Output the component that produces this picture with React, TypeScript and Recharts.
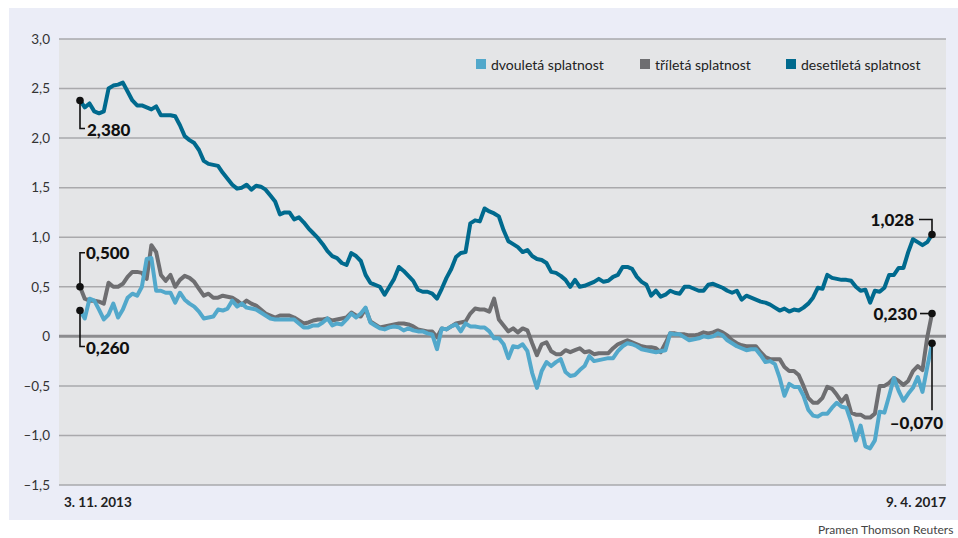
import React from 'react';
import { LineChart, Line, XAxis, YAxis, CartesianGrid, ReferenceLine } from 'recharts';

// weekly observations from 3. 11. 2013 to 9. 4. 2017
const weeks = Array.from({ length: 180 }, (_, i) => i);
const dateLabels = ['3. 11. 2013', '9. 4. 2017'];
const yTicks = [-1.5, -1, -0.5, 0, 0.5, 1, 1.5, 2, 2.5, 3];
const seriesNames = ['dvouletá splatnost', 'tříletá splatnost', 'desetiletá splatnost'];
const seriesColors = ['#52a8cb', '#6e6e71', '#006a8e'];
const sourceText = 'Pramen Thomson Reuters';

const twoYear = [
  0.26, 0.18, 0.38, 0.36, 0.27, 0.17, 0.22, 0.33, 0.19, 0.27,
  0.39, 0.43, 0.41, 0.5, 0.78, 0.79, 0.46, 0.46, 0.44, 0.44,
  0.34, 0.44, 0.37, 0.33, 0.3, 0.25, 0.18, 0.19, 0.2, 0.27,
  0.26, 0.28, 0.36, 0.3, 0.33, 0.29, 0.28, 0.27, 0.24, 0.21,
  0.18, 0.17, 0.17, 0.17, 0.17, 0.17, 0.13, 0.09, 0.09, 0.11,
  0.11, 0.14, 0.18, 0.11, 0.13, 0.12, 0.17, 0.23, 0.19, 0.23,
  0.29, 0.14, 0.11, 0.08, 0.07, 0.09, 0.1, 0.09, 0.06, 0.08,
  0.06, 0.05, 0.05, 0.03, 0.02, -0.13, 0.08, 0.07, 0.1, 0.12,
  0.05, 0.13, 0.1, 0.1, 0.09, 0.09, 0.05, -0.02, -0.02, -0.08,
  -0.22, -0.1, -0.11, -0.08, -0.15, -0.37, -0.52, -0.35, -0.26, -0.3,
  -0.26, -0.23, -0.36, -0.4, -0.39, -0.34, -0.3, -0.2, -0.25, -0.24,
  -0.23, -0.22, -0.22, -0.15, -0.1, -0.07, -0.08, -0.1, -0.13, -0.14,
  -0.15, -0.16, -0.15, -0.14, 0.03, 0.02, 0.02, -0.01, -0.04, -0.03,
  -0.02, 0.0, -0.01, 0.0, 0.03, 0.01, -0.04, -0.07, -0.1, -0.12,
  -0.14, -0.13, -0.13, -0.19, -0.26, -0.25, -0.28, -0.42, -0.6, -0.48,
  -0.51, -0.51, -0.6, -0.74, -0.8, -0.81, -0.78, -0.78, -0.72, -0.67,
  -0.71, -0.72, -0.86, -1.05, -0.9, -1.11, -1.13, -1.05, -0.76, -0.77,
  -0.6, -0.42, -0.55, -0.65, -0.58, -0.52, -0.41, -0.56, -0.31, -0.07,
];

const threeYear = [
  0.5, 0.38, 0.36, 0.36, 0.35, 0.33, 0.54, 0.5, 0.5, 0.53,
  0.6, 0.65, 0.65, 0.64, 0.58, 0.92, 0.85, 0.62, 0.56, 0.62,
  0.5, 0.57, 0.61, 0.59, 0.55, 0.48, 0.41, 0.43, 0.39, 0.39,
  0.41, 0.4, 0.39, 0.36, 0.32, 0.36, 0.33, 0.31, 0.27, 0.23,
  0.21, 0.19, 0.21, 0.21, 0.21, 0.19, 0.16, 0.13, 0.14, 0.16,
  0.17, 0.17, 0.18, 0.16, 0.17, 0.18, 0.19, 0.24, 0.21, 0.2,
  0.28, 0.15, 0.12, 0.09, 0.1, 0.11, 0.12, 0.13, 0.13, 0.12,
  0.1, 0.07, 0.06, 0.05, 0.05, -0.01, 0.08, 0.07, 0.1, 0.13,
  0.14, 0.15, 0.23, 0.28, 0.27, 0.27, 0.25, 0.38, 0.17, 0.11,
  0.05, 0.08, 0.04, 0.08, 0.06, -0.07, -0.19, -0.08, -0.06, -0.15,
  -0.18, -0.18, -0.14, -0.16, -0.14, -0.12, -0.16, -0.15, -0.18, -0.17,
  -0.17, -0.17, -0.12, -0.08, -0.06, -0.04, -0.06, -0.08, -0.1, -0.11,
  -0.11, -0.12, -0.16, -0.07, 0.03, 0.03, 0.02, 0.02, 0.01, 0.01,
  0.02, 0.04, 0.03, 0.04, 0.06, 0.04, 0.01, -0.04, -0.07, -0.09,
  -0.1, -0.1, -0.1, -0.16, -0.21, -0.23, -0.23, -0.23, -0.31, -0.35,
  -0.35, -0.39, -0.5, -0.62, -0.67, -0.67, -0.62, -0.51, -0.53, -0.59,
  -0.66, -0.6, -0.77, -0.79, -0.79, -0.82, -0.82, -0.78, -0.5, -0.5,
  -0.47, -0.42, -0.45, -0.49, -0.45, -0.35, -0.3, -0.34, -0.01, 0.23,
];

const tenYear = [
  2.38, 2.31, 2.35, 2.27, 2.25, 2.27, 2.5, 2.53, 2.54, 2.56,
  2.47, 2.38, 2.33, 2.33, 2.31, 2.29, 2.32, 2.23, 2.23, 2.23,
  2.22, 2.13, 2.02, 1.98, 1.95, 1.88, 1.77, 1.74, 1.73, 1.72,
  1.65, 1.59, 1.53, 1.49, 1.5, 1.53, 1.48, 1.52, 1.51, 1.48,
  1.42, 1.36, 1.23, 1.25, 1.25, 1.18, 1.2, 1.15, 1.09, 1.04,
  0.99, 0.93, 0.86, 0.81, 0.79, 0.74, 0.72, 0.84, 0.81, 0.76,
  0.62, 0.54, 0.52, 0.5, 0.42, 0.5, 0.58, 0.7, 0.66, 0.61,
  0.56, 0.47, 0.45, 0.45, 0.43, 0.38, 0.48, 0.59, 0.68, 0.8,
  0.84, 0.85, 1.14, 1.17, 1.16, 1.29, 1.26, 1.24, 1.21, 1.07,
  0.96, 0.93, 0.9, 0.85, 0.87, 0.81, 0.78, 0.77, 0.74, 0.65,
  0.64, 0.61, 0.57, 0.5, 0.57, 0.5, 0.51, 0.53, 0.55, 0.58,
  0.55, 0.56, 0.6, 0.62, 0.7, 0.7, 0.68, 0.6, 0.55, 0.52,
  0.41, 0.46, 0.4, 0.42, 0.46, 0.44, 0.43, 0.5, 0.5, 0.48,
  0.46, 0.46, 0.52, 0.53, 0.51, 0.49, 0.46, 0.44, 0.46, 0.37,
  0.41, 0.39, 0.37, 0.35, 0.34, 0.32, 0.29, 0.26, 0.28, 0.25,
  0.27, 0.26, 0.29, 0.33, 0.39, 0.49, 0.48, 0.62, 0.59, 0.58,
  0.57, 0.57, 0.56, 0.5, 0.46, 0.47, 0.34, 0.46, 0.45, 0.49,
  0.62, 0.62, 0.69, 0.69, 0.85, 0.98, 0.95, 0.92, 0.95, 1.028,
];

const data = weeks.map((w, i) => ({ w, t2: twoYear[i], t3: threeYear[i], t10: tenYear[i] }));

const FONT = 'Lato, "Open Sans", sans-serif';

const fmtTick = (v: number) =>
  v === 0 ? '0' : (v < 0 ? '\u2013' : '') + Math.abs(v).toFixed(1).replace('.', ',');
const fmtVal = (v: number) =>
  (v < 0 ? '\u2013' : '') + Math.abs(v).toFixed(3).replace('.', ',');

type Spec = { v: number; h: number; tdx: number; tdy: number; anchor: 'start' | 'end' };

const makeDot = (values: number[], first: Spec, last: Spec) => (props: any) => {
  const { cx, cy, index } = props;
  const spec = index === 0 ? first : index === values.length - 1 ? last : null;
  if (!spec || cx == null || cy == null) return <g key={`d${index}`} />;
  return (
    <g key={`d${index}`}>
      <path
        d={`M${cx},${cy} V${cy + spec.v} H${cx + spec.h}`}
        stroke="#111"
        strokeWidth={1.6}
        fill="none"
      />
      <circle cx={cx} cy={cy} r={3.8} fill="#111" />
      <text
        x={cx + spec.tdx}
        y={cy + spec.tdy}
        textAnchor={spec.anchor}
        dominantBaseline="central"
        fontFamily={FONT}
        fontWeight={900}
        fontSize={17}
        fill="#111"
      >
        {fmtVal(values[index])}
      </text>
    </g>
  );
};

const DateTick = (props: any) => {
  const { x, y, payload } = props;
  const first = payload.value === 0;
  return (
    <text
      x={first ? x - 16 : x + 14}
      y={y + 17}
      textAnchor={first ? 'start' : 'end'}
      dominantBaseline="central"
      fontFamily={FONT}
      fontWeight={700}
      fontSize={13.5}
      fill="#222"
    >
      {first ? dateLabels[0] : dateLabels[1]}
    </text>
  );
};

const legendLefts = [476, 640, 786];

export default function App() {
  return (
    <div style={{ position: 'relative', width: 958, height: 538, overflow: 'hidden', background: '#fff' }}>
      <style>{'body{margin:0;}'}</style>
      <div style={{ position: 'absolute', left: 9, top: 8, width: 949, height: 512, background: '#ebedf7' }} />
      <div style={{ position: 'absolute', left: 0, top: 0 }}>
        <LineChart width={958} height={538} data={data} margin={{ top: 39, right: 12, bottom: 23, left: 0 }}>
          <CartesianGrid vertical={false} stroke="#a9a9ac" strokeWidth={1.5} fill="#e4e5e7" fillOpacity={1} />
          <XAxis
            dataKey="w"
            type="number"
            domain={[0, 179]}
            ticks={[0, 179]}
            interval={0}
            padding={{ left: 21, right: 14 }}
            axisLine={false}
            tickLine={false}
            tickSize={0}
            tickMargin={0}
            height={30}
            tick={<DateTick />}
          />
          <YAxis
            type="number"
            domain={[-1.5, 3]}
            ticks={yTicks}
            interval={0}
            tickFormatter={fmtTick}
            axisLine={false}
            tickLine={false}
            tickSize={0}
            tickMargin={9}
            width={59}
            tick={{ fill: '#333', fontSize: 13.5, fontFamily: FONT }}
          />
          <ReferenceLine y={0} stroke="#8c8c8f" strokeWidth={3} />
          <Line
            dataKey="t3"
            type="linear"
            stroke={seriesColors[1]}
            strokeWidth={4}
            strokeLinejoin="round"
            isAnimationActive={false}
            activeDot={false}
            dot={makeDot(threeYear, { v: -34, h: 5, tdx: 6, tdy: -34, anchor: 'start' }, { v: 0, h: -12, tdx: -15, tdy: 0, anchor: 'end' })}
          />
          <Line
            dataKey="t2"
            type="linear"
            stroke={seriesColors[0]}
            strokeWidth={4}
            strokeLinejoin="round"
            isAnimationActive={false}
            activeDot={false}
            dot={makeDot(twoYear, { v: 36, h: 5, tdx: 6, tdy: 37, anchor: 'start' }, { v: 67, h: 0, tdx: 11, tdy: 79, anchor: 'end' })}
          />
          <Line
            dataKey="t10"
            type="linear"
            stroke={seriesColors[2]}
            strokeWidth={4}
            strokeLinejoin="round"
            isAnimationActive={false}
            activeDot={false}
            dot={makeDot(tenYear, { v: 28, h: 5, tdx: 7, tdy: 29, anchor: 'start' }, { v: -15, h: -13, tdx: -18, tdy: -15, anchor: 'end' })}
          />
        </LineChart>
      </div>
      {seriesNames.map((name, i) => (
        <div
          key={name}
          style={{
            position: 'absolute',
            left: legendLefts[i],
            top: 57,
            height: 14,
            display: 'flex',
            alignItems: 'center',
            fontFamily: FONT,
            fontSize: 14,
            color: '#222',
            whiteSpace: 'nowrap',
          }}
        >
          <span style={{ display: 'inline-block', width: 10, height: 10, background: seriesColors[i], marginRight: 5 }} />
          <span>{name}</span>
        </div>
      ))}
      <div
        style={{
          position: 'absolute',
          left: 818,
          top: 522,
          fontFamily: FONT,
          fontSize: 12,
          color: '#444',
          whiteSpace: 'nowrap',
        }}
      >
        {sourceText}
      </div>
    </div>
  );
}
